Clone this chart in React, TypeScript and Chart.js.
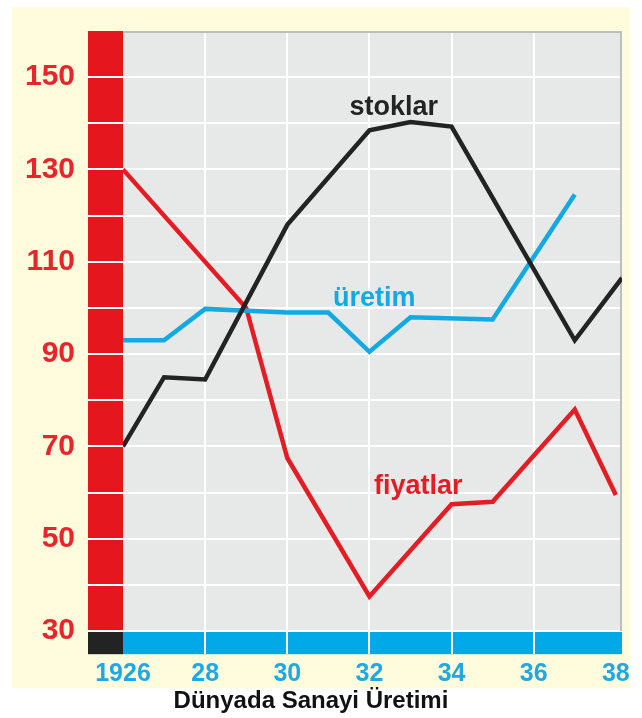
import React, { useEffect, useRef } from "react";
import { Chart, registerables } from "chart.js";

Chart.register(...registerables);

// ---- data ----
const stoklarYears = [1926, 1927, 1928, 1930, 1932, 1933, 1934, 1937, 1938.15];
const stoklarValues = [70, 85, 84.5, 118, 138.5, 140.3, 139.3, 93, 106.5];

const uretimYears = [1926, 1927, 1928, 1930, 1931, 1932, 1933, 1935, 1937];
const uretimValues = [93, 93, 99.8, 99, 99, 90.5, 98, 97.5, 124.6];

const fiyatlarYears = [1926, 1929, 1930, 1932, 1934, 1935, 1937, 1938];
const fiyatlarValues = [130, 100, 67.5, 37.5, 57.5, 58, 78, 59.5];

const xTickValues = [1926, 1928, 1930, 1932, 1934, 1936, 1938];
const xTickLabels = ["1926", "28", "30", "32", "34", "36", "38"];
const yTickValues = [30, 40, 50, 60, 70, 80, 90, 100, 110, 120, 130, 140, 150];
const yTickLabels = [30, 50, 70, 90, 110, 130, 150];

const seriesNames = ["stoklar", "üretim", "fiyatlar"];
const titleText = "Dünyada Sanayi Üretimi";

// ---- styles ----
const FONT = "'Liberation Sans', Arial, Helvetica, sans-serif";
const C_CREAM = "#FEFCDC";
const C_GRAY = "#E7E8E8";
const C_RED_STRIP = "#E6161F";
const C_BLUE_STRIP = "#02A9E7";
const C_BLACK = "#232323";
const C_RED = "#E41D25";
const C_BLUE = "#13AAE4";
const C_YLABEL = "#E8252B";
const C_XLABEL = "#1FA8E2";

// label anchors (data units) for the in-chart series names
const labelAnchors = [
  { x: 1932.59, y: 141.9, color: C_BLACK },
  { x: 1932.12, y: 100.4, color: C_BLUE },
  { x: 1933.19, y: 59.7, color: C_RED },
];

const backgroundPlugin = {
  id: "bgDecor",
  beforeDraw(chart: any) {
    const { ctx, chartArea: a, scales } = chart;
    const y30 = scales.y.getPixelForValue(30);
    ctx.save();
    // cream panel
    ctx.fillStyle = C_CREAM;
    ctx.fillRect(a.left - 111, a.top - 24, a.right - a.left + 119, a.bottom - a.top + 58);
    // plot gray
    ctx.fillStyle = C_GRAY;
    ctx.fillRect(a.left, a.top, a.right - a.left, y30 - a.top);
    // red strip on left
    ctx.fillStyle = C_RED_STRIP;
    ctx.fillRect(a.left - 35, a.top, 35, y30 - a.top);
    // black square
    ctx.fillStyle = C_BLACK;
    ctx.fillRect(a.left - 35, y30, 35, a.bottom - y30);
    // blue strip
    ctx.fillStyle = C_BLUE_STRIP;
    ctx.fillRect(a.left, y30, a.right - a.left, a.bottom - y30);
    ctx.restore();
  },
  beforeDatasetsDraw(chart: any) {
    const { ctx, chartArea: a, scales } = chart;
    const y30 = scales.y.getPixelForValue(30);
    ctx.save();
    ctx.fillStyle = "#BDBEBE";
    ctx.fillRect(a.left, a.top, a.right - a.left, 2);
    ctx.fillRect(a.right - 2, a.top, 2, y30 - a.top);
    ctx.restore();
  },
  afterDatasetsDraw(chart: any) {
    const { ctx, scales } = chart;
    ctx.save();
    ctx.font = `bold 27px ${FONT}`;
    ctx.textAlign = "center";
    ctx.textBaseline = "alphabetic";
    labelAnchors.forEach((l, i) => {
      ctx.fillStyle = l.color;
      ctx.fillText(seriesNames[i], scales.x.getPixelForValue(l.x), scales.y.getPixelForValue(l.y));
    });
    ctx.restore();
  },
};

function toPoints(xs: number[], ys: number[]) {
  return xs.map((x, i) => ({ x, y: ys[i] }));
}

export default function App() {
  const ref = useRef<HTMLCanvasElement>(null);

  useEffect(() => {
    const canvas = ref.current!;
    const chart = new Chart(canvas, {
      type: "line",
      data: {
        datasets: [
          {
            label: seriesNames[0],
            data: toPoints(stoklarYears, stoklarValues),
            borderColor: C_BLACK,
            borderWidth: 4.5,
            pointRadius: 0,
            tension: 0,
          },
          {
            label: seriesNames[1],
            data: toPoints(uretimYears, uretimValues),
            borderColor: C_BLUE,
            borderWidth: 4.5,
            pointRadius: 0,
            tension: 0,
          },
          {
            label: seriesNames[2],
            data: toPoints(fiyatlarYears, fiyatlarValues),
            borderColor: C_RED,
            borderWidth: 4.5,
            pointRadius: 0,
            tension: 0,
          },
        ],
      },
      options: {
        responsive: false,
        animation: false,
        devicePixelRatio: 1,
        layout: { padding: { top: 29, right: 20, left: 0, bottom: 0 } },
        plugins: {
          legend: { display: false },
          tooltip: { enabled: false },
          title: {
            display: true,
            text: titleText,
            position: "bottom",
            color: "#111111",
            font: { family: FONT, size: 24, weight: "bold" },
            padding: { top: 6, bottom: 2 },
          },
        },
        scales: {
          x: {
            type: "linear",
            min: 1926,
            max: 1938.15,
            afterBuildTicks: (s: any) => {
              s.ticks = xTickValues.map((v) => ({ value: v }));
            },
            afterFit: (s: any) => {
              s.height = 27;
            },
            border: { display: false },
            grid: {
              drawTicks: false,
              lineWidth: 2,
              color: (c: any) =>
                c.tick && (c.tick.value === 1926 || c.tick.value === 1938) ? "rgba(0,0,0,0)" : "#FFFFFF",
            },
            ticks: {
              autoSkip: false,
              maxRotation: 0,
              minRotation: 0,
              padding: 5,
              color: C_XLABEL,
              font: { family: FONT, size: 25, weight: "bold" },
              callback: (v: any) => {
                const i = xTickValues.indexOf(Number(v));
                return i >= 0 ? xTickLabels[i] : "";
              },
            },
          },
          y: {
            type: "linear",
            min: 25,
            max: 160,
            afterBuildTicks: (s: any) => {
              s.ticks = yTickValues.map((v) => ({ value: v }));
            },
            afterFit: (s: any) => {
              s.width = 123;
            },
            border: { display: false },
            grid: {
              drawTicks: true,
              tickLength: 35,
              lineWidth: 2,
              color: "#FFFFFF",
              tickColor: "#FFFFFF",
            },
            ticks: {
              autoSkip: false,
              padding: 13,
              color: C_YLABEL,
              font: { family: FONT, size: 30, weight: "bold" },
              callback: (v: any) => (yTickLabels.includes(Number(v)) ? String(v) : ""),
            },
          },
        },
      },
      plugins: [backgroundPlugin],
    } as any);
    return () => chart.destroy();
  }, []);

  return (
    <div style={{ position: "fixed", left: 0, top: 0, width: 642, height: 718, background: "#ffffff" }}>
      <canvas ref={ref} width={642} height={718} style={{ display: "block", width: 642, height: 718 }} />
    </div>
  );
}
